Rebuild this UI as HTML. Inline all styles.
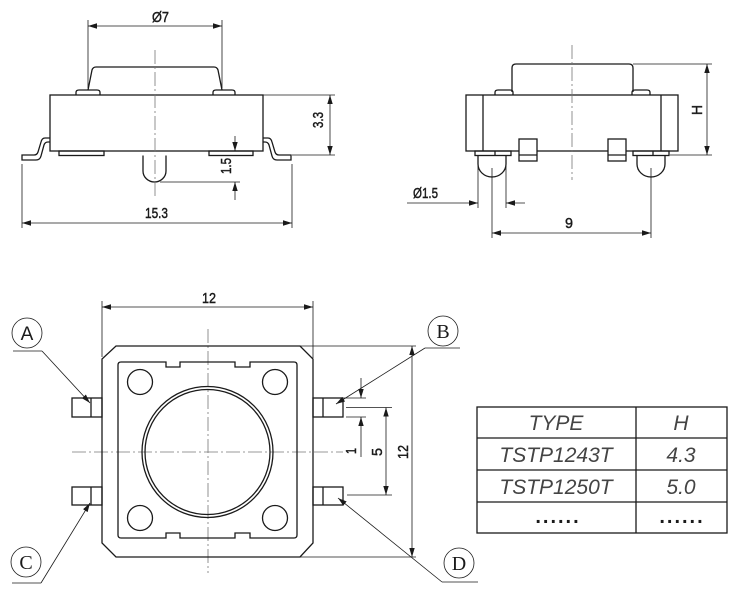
<!DOCTYPE html>
<html><head><meta charset="utf-8"><style>
html,body{margin:0;padding:0;background:#fff;}
svg{display:block;}
text{font-family:"Liberation Sans",sans-serif;fill:#1a1a1a;}
.d{font-size:15px;stroke:#1a1a1a;stroke-width:0.45;}
</style></head><body>
<svg width="738" height="601" viewBox="0 0 738 601" xmlns="http://www.w3.org/2000/svg">
<defs>
<marker id="ar" markerUnits="userSpaceOnUse" markerWidth="10" markerHeight="8" refX="9" refY="3" orient="auto-start-reverse">
<path d="M0,0.3 L9,3 L0,5.7 z" fill="#1a1a1a"/>
</marker>
</defs>
<g fill="none" stroke="#1a1a1a" stroke-width="1.3">
<path d="M88,90 L92,70 Q93,67 96,67 L214,67 Q217,67 218,70 L222,90"/>
<path d="M76,95 L76,92.5 Q76,90 79,90 L97,90 Q100,90 100,92.5 L100,95"/>
<path d="M213,95 L213,92.5 Q213,90 216,90 L232,90 Q235,90 235,92.5 L235,95"/>
<rect x="50" y="95" width="213" height="56" fill="#fff"/>
<rect x="59" y="151" width="45" height="4.5"/>
<rect x="209" y="151" width="44" height="4.5"/>
<path d="M50,138 L45,138 Q42,138 41,142 L38,152 Q37,155 34,155 L22,155 L22,160 L36,160 Q40,160 41,156 L44,145 Q45,142 48,142 L50,142"/>
<path d="M263,138 L268,138 Q271,138 272,142 L275,152 Q276,155 279,155 L291,155 L291,160 L277,160 Q273,160 272,156 L269,145 Q268,142 265,142 L263,142"/>
<path d="M143,155.5 L143,171 A11.5,11 0 0 0 166,171 L166,155.5"/>
</g>
<g fill="none" stroke="#1a1a1a" stroke-width="0.8">
<line x1="88" y1="20" x2="88" y2="88"/>
<line x1="222" y1="20" x2="222" y2="88"/>
<line x1="88" y1="26" x2="222" y2="26" marker-start="url(#ar)" marker-end="url(#ar)"/>
<line x1="263" y1="95" x2="335" y2="95"/>
<line x1="292" y1="155" x2="335" y2="155"/>
<line x1="330" y1="95" x2="330" y2="155" marker-start="url(#ar)" marker-end="url(#ar)"/>
<line x1="235" y1="136" x2="235" y2="151" marker-end="url(#ar)"/>
<line x1="235" y1="200" x2="235" y2="182" marker-end="url(#ar)"/>
<line x1="160" y1="182" x2="240" y2="182"/>
<line x1="22" y1="164" x2="22" y2="228"/>
<line x1="292" y1="164" x2="292" y2="228"/>
<line x1="22" y1="223" x2="292" y2="223" marker-start="url(#ar)" marker-end="url(#ar)"/>
</g>
<line x1="155" y1="50" x2="155" y2="197" stroke="#777" stroke-width="0.8" stroke-dasharray="14 3 2 3"/>
<text class="d" x="152" y="22" textLength="17" lengthAdjust="spacingAndGlyphs">Ø7</text>
<text class="d" x="145" y="218" textLength="23" lengthAdjust="spacingAndGlyphs">15.3</text>
<text class="d" transform="translate(323,128) rotate(-90)" textLength="16" lengthAdjust="spacingAndGlyphs">3.3</text>
<text class="d" transform="translate(231,174) rotate(-90)" textLength="16" lengthAdjust="spacingAndGlyphs">1.5</text>

<g fill="none" stroke="#1a1a1a" stroke-width="1.3">
<path d="M512,92 L512,68 Q512,64 516,64 L629,64 Q633,64 633,68 L633,92"/>
<path d="M495,95 L495,92.5 Q495,90 498,90 L510,90 Q513,90 513,92.5 L513,95"/>
<path d="M632,95 L632,92.5 Q632,90 635,90 L647,90 Q650,90 650,92.5 L650,95"/>
<rect x="466" y="95" width="212" height="56" fill="#fff"/>
<line x1="483" y1="95" x2="483" y2="151"/>
<line x1="661" y1="95" x2="661" y2="151"/>
<rect x="475" y="151" width="36" height="4.5"/>
<line x1="495" y1="151" x2="495" y2="155.5"/>
<rect x="633" y="151" width="36" height="4.5"/>
<line x1="653" y1="151" x2="653" y2="155.5"/>
<rect x="519" y="139" width="18" height="22" fill="#fff"/>
<line x1="519" y1="155" x2="537" y2="155"/>
<rect x="608" y="139" width="18" height="22" fill="#fff"/>
<line x1="608" y1="155" x2="626" y2="155"/>
<path d="M478,155.5 L478,164 A14,13 0 0 0 506,164 L506,155.5"/>
<path d="M637,155.5 L637,164 A14,13 0 0 0 665,164 L665,155.5"/>
</g>
<g fill="none" stroke="#1a1a1a" stroke-width="0.8">
<line x1="633" y1="64" x2="712" y2="64"/>
<line x1="670" y1="155" x2="712" y2="155"/>
<line x1="707" y1="64" x2="707" y2="155" marker-start="url(#ar)" marker-end="url(#ar)"/>
<line x1="478" y1="165" x2="478" y2="208"/>
<line x1="506" y1="165" x2="506" y2="208"/>
<line x1="407" y1="203" x2="478" y2="203" marker-end="url(#ar)"/>
<line x1="525" y1="203" x2="506" y2="203" marker-end="url(#ar)"/>
<line x1="492" y1="168" x2="492" y2="238"/>
<line x1="651" y1="168" x2="651" y2="238"/>
<line x1="492" y1="233" x2="651" y2="233" marker-start="url(#ar)" marker-end="url(#ar)"/>
</g>
<line x1="572" y1="45" x2="572" y2="180" stroke="#777" stroke-width="0.8" stroke-dasharray="14 3 2 3"/>
<text class="d" x="413" y="198" textLength="25" lengthAdjust="spacingAndGlyphs">Ø1.5</text>
<text class="d" x="565" y="228" textLength="8" lengthAdjust="spacingAndGlyphs">9</text>
<text class="d" transform="translate(702,115) rotate(-90)" textLength="10" lengthAdjust="spacingAndGlyphs">H</text>

<g stroke="#777" stroke-width="0.8" stroke-dasharray="14 3 2 3" fill="none">
<line x1="72" y1="452" x2="343" y2="452"/>
<line x1="208" y1="329" x2="208" y2="573"/>
</g>
<g fill="none" stroke="#1a1a1a" stroke-width="1.3">
<path d="M116,346 L300,346 L313,359 L313,543 L300,557 L116,557 L102,543 L102,359 Z"/>
<path d="M121,362 L166,362 L166,367 L180,367 L180,362 L235,362 L235,367 L250,367 L250,362 L294,362 Q297,362 297,365 L297,535 Q297,538 294,538 L250,538 L250,533 L235,533 L235,538 L180,538 L180,533 L166,533 L166,538 L121,538 Q118,538 118,535 L118,365 Q118,362 121,362 Z"/>
<circle cx="140" cy="382" r="12.5"/>
<circle cx="275" cy="382" r="12.5"/>
<circle cx="140" cy="518" r="12.5"/>
<circle cx="275" cy="518" r="12.5"/>
<circle cx="207.5" cy="452" r="65.5"/>
<circle cx="207.5" cy="452" r="62.5"/>
<rect x="72" y="398" width="30" height="19"/>
<line x1="91" y1="398" x2="91" y2="417"/>
<rect x="72" y="487" width="30" height="18"/>
<line x1="91" y1="487" x2="91" y2="505"/>
<rect x="313" y="398" width="30" height="19"/>
<line x1="323" y1="398" x2="323" y2="417"/>
<rect x="313" y="487" width="30" height="18"/>
<line x1="323" y1="487" x2="323" y2="505"/>
</g>
<g fill="none" stroke="#1a1a1a" stroke-width="0.8">
<line x1="102" y1="301" x2="102" y2="357"/>
<line x1="313" y1="301" x2="313" y2="358"/>
<line x1="102" y1="307" x2="313" y2="307" marker-start="url(#ar)" marker-end="url(#ar)"/>
<line x1="300" y1="346" x2="416" y2="346"/>
<line x1="300" y1="557" x2="416" y2="557"/>
<line x1="412" y1="346" x2="412" y2="557" marker-start="url(#ar)" marker-end="url(#ar)"/>
<line x1="344" y1="398" x2="366" y2="398"/>
<line x1="346" y1="407.5" x2="392" y2="407.5"/>
<line x1="346" y1="417" x2="366" y2="417"/>
<line x1="347" y1="495" x2="392" y2="495"/>
<line x1="361" y1="378" x2="361" y2="398" marker-end="url(#ar)"/>
<line x1="361" y1="457" x2="361" y2="417" marker-end="url(#ar)"/>
<line x1="386" y1="407.5" x2="386" y2="495" marker-start="url(#ar)" marker-end="url(#ar)"/>
<circle cx="27" cy="333" r="15"/>
<line x1="13" y1="351" x2="42" y2="351"/>
<line x1="42" y1="351" x2="90" y2="403" marker-end="url(#ar)"/>
<circle cx="26" cy="562" r="15"/>
<line x1="12" y1="583" x2="41" y2="583"/>
<line x1="41" y1="583" x2="90" y2="503" marker-end="url(#ar)"/>
<circle cx="443" cy="331" r="15"/>
<line x1="425" y1="348" x2="460" y2="348"/>
<line x1="425" y1="348" x2="336" y2="404" marker-end="url(#ar)"/>
<circle cx="459" cy="563" r="15"/>
<line x1="442" y1="582" x2="478" y2="582"/>
<line x1="442" y1="582" x2="338" y2="498" marker-end="url(#ar)"/>
</g>
<text class="d" x="202" y="303" textLength="14" lengthAdjust="spacingAndGlyphs">12</text>
<text class="d" transform="translate(356,454) rotate(-90)" textLength="6" lengthAdjust="spacingAndGlyphs">1</text>
<text class="d" transform="translate(382,456) rotate(-90)" textLength="8" lengthAdjust="spacingAndGlyphs">5</text>
<text class="d" transform="translate(408,459) rotate(-90)" textLength="14" lengthAdjust="spacingAndGlyphs">12</text>
<text x="27" y="340" font-size="19" text-anchor="middle">A</text>
<text x="443" y="338" font-size="20" text-anchor="middle" style="font-family:'Liberation Serif',serif">B</text>
<text x="26" y="569" font-size="20" text-anchor="middle" style="font-family:'Liberation Serif',serif">C</text>
<text x="459" y="570" font-size="20" text-anchor="middle" style="font-family:'Liberation Serif',serif">D</text>

<g fill="none" stroke="#1a1a1a" stroke-width="1.3">
<rect x="477" y="407" width="250" height="126"/>
<line x1="636" y1="407" x2="636" y2="533"/>
<line x1="477" y1="438" x2="727" y2="438"/>
<line x1="477" y1="470" x2="727" y2="470"/>
<line x1="477" y1="502" x2="727" y2="502"/>
</g>
<g font-size="21" font-style="italic" text-anchor="middle" style="fill:#444">
<text x="556" y="430" style="fill:#444">TYPE</text>
<text x="681" y="430" style="fill:#444">H</text>
<text x="556" y="462" style="fill:#444">TSTP1243T</text>
<text x="681" y="462" style="fill:#444">4.3</text>
<text x="556" y="494" style="fill:#444">TSTP1250T</text>
<text x="681" y="494" style="fill:#444">5.0</text>
</g>
<text x="558" y="523" font-size="20" font-weight="bold" letter-spacing="2" text-anchor="middle">......</text>
<text x="682" y="523" font-size="20" font-weight="bold" letter-spacing="2" text-anchor="middle">......</text>
</svg>
</body></html>
